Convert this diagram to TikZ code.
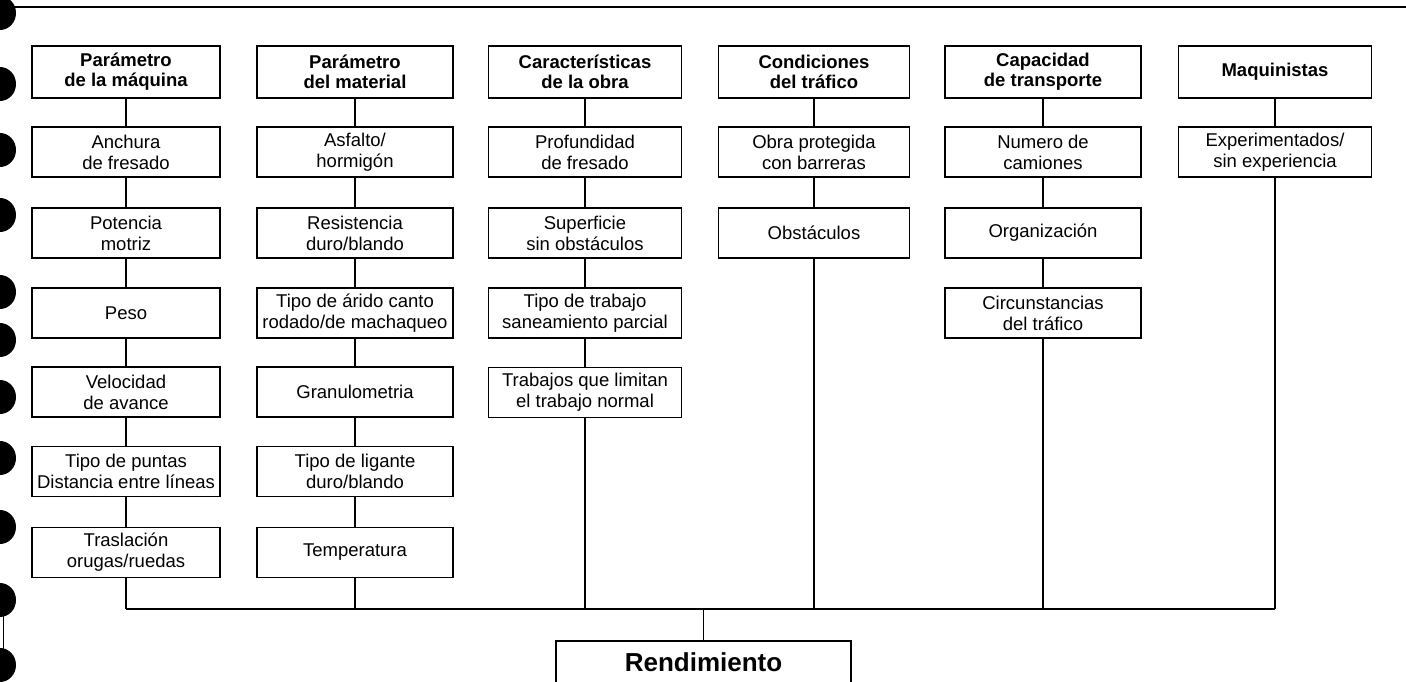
\documentclass[tikz,border=0pt]{standalone}
\usepackage{fontspec}
\setmainfont{Liberation Sans}
\begin{document}
\begin{tikzpicture}[x=1pt,y=-1pt,
  box/.style={draw, line width=1.4pt, inner sep=0pt, align=center, minimum height=50pt,
    font=\fontsize{18.5}{21}\selectfont},
  head/.style={box, minimum height=52pt, font=\bfseries\fontsize{18.5}{20}\selectfont},
  c1/.style={minimum width=188pt}, c2/.style={minimum width=196pt},
  c3/.style={minimum width=193pt}, c4/.style={minimum width=191pt},
  c5/.style={minimum width=196pt}, c6/.style={minimum width=193pt},
  link/.style={line width=1.4pt},
  hole/.style={fill=black}]
\useasboundingbox (0,0) rectangle (1406,682);
\clip (0,0) rectangle (1406,682);
% top rule
\draw[line width=2pt] (0,7) -- (1406,7);
% binder holes
\foreach \yy in {13,84,150,215,292,340,397,458,527,600,665}
  \fill[hole] (0,\yy) ellipse (16pt and 17pt);
\draw[line width=0.8pt] (3,600) -- (3,665);
% column 1
\node[head,c1] (a0) at (126,72) {Parámetro\\de la máquina};
\node[box,c1] (a1) at (126,152) {Anchura\\de fresado};
\node[box,c1] (a2) at (126,233) {Potencia\\motriz};
\node[box,c1] (a3) at (126,313) {Peso};
\node[box,c1] (a4) at (126,392) {Velocidad\\de avance};
\node[box,c1] (a5) at (126,471.5) {Tipo de puntas\\Distancia entre líneas};
\node[box,c1] (a6) at (126,552.5) {Traslación\\orugas/ruedas};
% column 2
\node[head,c2] (b0) at (355,72) {Parámetro\\del material};
\node[box,c2] (b1) at (355,152) {Asfalto/\\hormigón};
\node[box,c2] (b2) at (355,233) {Resistencia\\duro/blando};
\node[box,c2] (b3) at (355,313) {Tipo de árido canto\\rodado/de machaqueo};
\node[box,c2] (b4) at (355,392) {Granulometria};
\node[box,c2] (b5) at (355,471.5) {Tipo de ligante\\duro/blando};
\node[box,c2] (b6) at (355,552.5) {Temperatura};
% column 3
\node[head,c3] (c0) at (585,72) {Características\\de la obra};
\node[box,c3] (c1) at (585,152) {Profundidad\\de fresado};
\node[box,c3] (c2) at (585,233) {Superficie\\sin obstáculos};
\node[box,c3] (c3) at (585,313) {Tipo de trabajo\\saneamiento parcial};
\node[box,c3] (c4) at (585,392.5) {Trabajos que limitan\\el trabajo normal};
% column 4
\node[head,c4] (d0) at (814,72) {Condiciones\\del tráfico};
\node[box,c4] (d1) at (814,152) {Obra protegida\\con barreras};
\node[box,c4] (d2) at (814,233) {Obstáculos};
% column 5
\node[head,c5] (e0) at (1043,72) {Capacidad\\de transporte};
\node[box,c5] (e1) at (1043,152) {Numero de\\camiones};
\node[box,c5] (e2) at (1043,233) {Organización};
\node[box,c5] (e3) at (1043,313) {Circunstancias\\del tráfico};
% column 6
\node[head,c6] (f0) at (1275,72) {Maquinistas};
\node[box,c6] (f1) at (1275,152) {Experimentados/\\sin experiencia};
% result
\node[draw, line width=1.4pt, minimum width=295pt, minimum height=60pt, inner xsep=0pt, inner ysep=0pt,
  text height=30pt, text depth=30pt, font=\bfseries\fontsize{26}{28}\selectfont]
  (r) at (703.5,671) {Rendimiento};
% bus coordinates
\coordinate (busA) at (126,609);
\coordinate (busB) at (355,609);
\coordinate (busC) at (585,609);
\coordinate (busD) at (814,609);
\coordinate (busE) at (1043,609);
\coordinate (busF) at (1275,609);
\coordinate (busM) at (703.5,609);
% connectors
\draw[link] (a0) -- (a1) (a1) -- (a2) (a2) -- (a3) (a3) -- (a4) (a4) -- (a5) (a5) -- (a6) (a6) -- (busA);
\draw[link] (b0) -- (b1) (b1) -- (b2) (b2) -- (b3) (b3) -- (b4) (b4) -- (b5) (b5) -- (b6) (b6) -- (busB);
\draw[link] (c0) -- (c1) (c1) -- (c2) (c2) -- (c3) (c3) -- (c4) (c4) -- (busC);
\draw[link] (d0) -- (d1) (d1) -- (d2) (d2) -- (busD);
\draw[link] (e0) -- (e1) (e1) -- (e2) (e2) -- (e3) (e3) -- (busE);
\draw[link] (f0) -- (f1) (f1) -- (busF);
\draw[link] (busA) -- (busF);
\draw[link] (busM) -- (r);
\end{tikzpicture}
\end{document}
